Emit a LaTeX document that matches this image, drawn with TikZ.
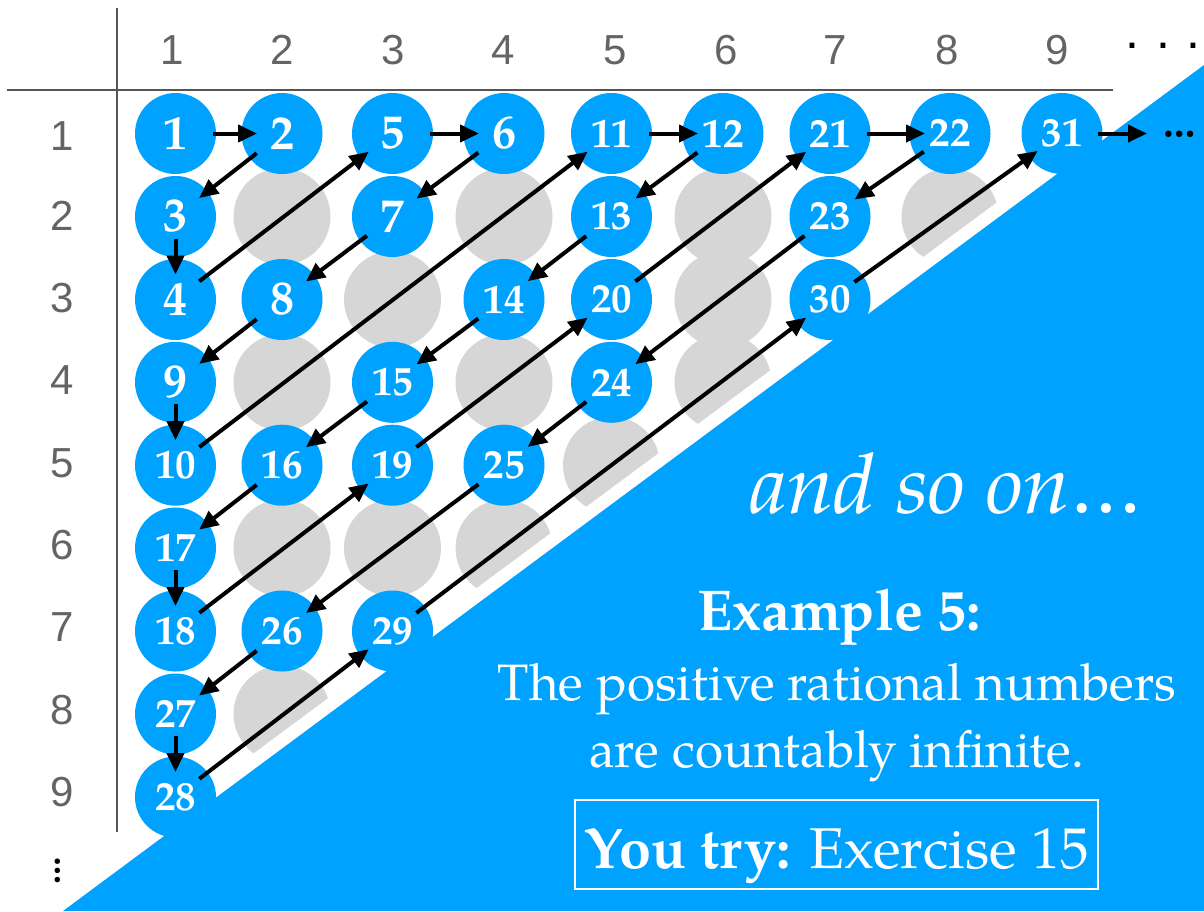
\documentclass[tikz,border=0pt]{standalone}
\usepackage{fontspec}
\setmainfont{texgyrepagella}[Extension=.otf,UprightFont=*-regular,BoldFont=*-bold,ItalicFont=*-italic,BoldItalicFont=*-bolditalic]
\newfontfamily\lblfont{Liberation Sans}
\usetikzlibrary{arrows.meta,calc}
\definecolor{cblue}{RGB}{0,162,255}
\definecolor{cgray}{RGB}{214,214,214}
\definecolor{lblgray}{RGB}{100,100,100}
\definecolor{linegray}{RGB}{85,85,85}
\newcommand\hop[4]{\draw[arr] ($(#1)!#3!(#2)$) -- ($(#2)!#4!(#1)$);}
\def\cA{175.5}\def\cB{282}\def\cC{392.5}\def\cD{504}\def\cE{611.5}\def\cF{723}\def\cG{830}\def\cH{950}\def\cI{1062}
\def\rA{133.5}\def\rB{216.5}\def\rC{299.5}\def\rD{382.3}\def\rE{465.2}\def\rF{548}\def\rG{631}\def\rH{714}\def\rI{797}
\begin{document}
\begin{tikzpicture}[x=1pt,y=-1pt,
  bc/.style={circle,fill=cblue,minimum size=81pt,inner sep=0pt,text=white,font=\bfseries\fontsize{48}{48}\selectfont},
  bcc/.style={bc,font=\bfseries\fontsize{41}{41}\selectfont},
  gc/.style={circle,fill=cgray,minimum size=97pt,inner sep=0pt},
  lbl/.style={text=lblgray,font=\lblfont\fontsize{42}{42}\selectfont,inner sep=0pt},
  arr/.style={line width=4pt,-{Triangle[length=19pt,width=17pt]}},
  wtxt/.style={text=white,anchor=base,inner sep=0pt}]
\useasboundingbox (0,0) rectangle (1204,911);
% grid lines
\draw[linegray,line width=2pt] (7,90) -- (1113,90);
\draw[linegray,line width=2pt] (117,8) -- (117,832);
% header labels
\foreach \t/\x in {1/172,2/282,3/393,4/503,5/615,6/726,7/835,8/947,9/1057}
  \node[lbl] (h\t) at (\x,50) {\t};
\foreach \t/\y in {1/136,2/216,3/298,4/380,5/463,6/545,7/627,8/710,9/792}
  \node[lbl] (v\t) at (62,\y) {\t};
\node[anchor=base,inner sep=0pt,font=\lblfont\fontsize{50}{50}\selectfont] (hdots) at (1163,48) {.\hspace{17pt}.\hspace{17pt}.};
\node[rotate=90,inner sep=0pt,font=\bfseries\fontsize{34}{34}\selectfont] (vdots) at (58,870.5) {…};
% gray circles
\node[gc] (g22) at (\cB,\rB) {};
\node[gc] (g42) at (\cD,\rB) {};
\node[gc] (g62) at (\cF,\rB) {};
\node[gc] (g82) at (\cH,\rB) {};
\node[gc] (g33) at (\cC,\rC) {};
\node[gc] (g63) at (\cF,\rC) {};
\node[gc] (g24) at (\cB,\rD) {};
\node[gc] (g44) at (\cD,\rD) {};
\node[gc] (g64) at (\cF,\rD) {};
\node[gc] (g55) at (\cE,\rE) {};
\node[gc] (g26) at (\cB,\rF) {};
\node[gc] (g36) at (\cC,\rF) {};
\node[gc] (g46) at (\cD,\rF) {};
\node[gc] (g28) at (\cB,\rH) {};
% blue triangle with white band
\path[draw=white,line width=26pt] (63,911) -- (1204,65) -- (1204,911) -- cycle;
\fill[cblue] (63,911) -- (1204,65) -- (1204,911) -- cycle;
% blue circles
\node[bc] (n1) at (\cA,\rA) {1};
\node[bc] (n2) at (\cB,\rA) {2};
\node[bc] (n5) at (\cC,\rA) {5};
\node[bc] (n6) at (\cD,\rA) {6};
\node[bcc] (n11) at (\cE,\rA) {11};
\node[bcc] (n12) at (\cF,\rA) {12};
\node[bcc] (n21) at (\cG,\rA) {21};
\node[bcc] (n22) at (\cH,\rA) {22};
\node[bcc] (n31) at (\cI,\rA) {31};
\node[bc] (n3) at (\cA,\rB) {3};
\node[bc] (n7) at (\cC,\rB) {7};
\node[bcc] (n13) at (\cE,\rB) {13};
\node[bcc] (n23) at (\cG,\rB) {23};
\node[bc] (n4) at (\cA,\rC) {4};
\node[bc] (n8) at (\cB,\rC) {8};
\node[bcc] (n14) at (\cD,\rC) {14};
\node[bcc] (n20) at (\cE,\rC) {20};
\node[bcc] (n30) at (\cG,\rC) {30};
\node[bc] (n9) at (\cA,\rD) {9};
\node[bcc] (n15) at (\cC,\rD) {15};
\node[bcc] (n24) at (\cE,\rD) {24};
\node[bcc] (n10) at (\cA,\rE) {10};
\node[bcc] (n16) at (\cB,\rE) {16};
\node[bcc] (n19) at (\cC,\rE) {19};
\node[bcc] (n25) at (\cD,\rE) {25};
\node[bcc] (n17) at (\cA,\rF) {17};
\node[bcc] (n18) at (\cA,\rG) {18};
\node[bcc] (n26) at (\cB,\rG) {26};
\node[bcc] (n29) at (\cC,\rG) {29};
\node[bcc] (n27) at (\cA,\rH) {27};
\node[bcc] (n28) at (\cA,\rI) {28};
% continuation dots
\node[anchor=base,inner sep=0pt,font=\bfseries\fontsize{40}{40}\selectfont] (more) at (1180,137) {…};
\coordinate (moretip) at (1147,\rA);
% arrows
\hop{n1}{n2}{37pt}{25pt}
\hop{n2}{n3}{32pt}{30pt}
\hop{n3}{n4}{22pt}{25pt}
\hop{n4}{n5}{30pt}{30pt}
\hop{n5}{n6}{37pt}{25pt}
\hop{n6}{n7}{32pt}{30pt}
\hop{n7}{n8}{32pt}{30pt}
\hop{n8}{n9}{32pt}{30pt}
\hop{n9}{n10}{22pt}{25pt}
\hop{n10}{n11}{30pt}{30pt}
\hop{n11}{n12}{37pt}{25pt}
\hop{n12}{n13}{32pt}{30pt}
\hop{n13}{n14}{32pt}{30pt}
\hop{n14}{n15}{32pt}{30pt}
\hop{n15}{n16}{32pt}{30pt}
\hop{n16}{n17}{32pt}{30pt}
\hop{n17}{n18}{22pt}{25pt}
\hop{n18}{n19}{30pt}{30pt}
\hop{n19}{n20}{30pt}{30pt}
\hop{n20}{n21}{30pt}{30pt}
\hop{n21}{n22}{37pt}{25pt}
\hop{n22}{n23}{32pt}{30pt}
\hop{n23}{n24}{32pt}{30pt}
\hop{n24}{n25}{32pt}{30pt}
\hop{n25}{n26}{32pt}{30pt}
\hop{n26}{n27}{32pt}{30pt}
\hop{n27}{n28}{22pt}{25pt}
\hop{n28}{n29}{30pt}{30pt}
\hop{n29}{n30}{30pt}{30pt}
\hop{n30}{n31}{30pt}{30pt}
\draw[arr] ($(n31)!36pt!(moretip)$) -- (moretip);
% texts on the triangle
\node[wtxt,font=\itshape\fontsize{83.5}{84}\selectfont] (andso) at (946,513) {and so on…};
\node[wtxt,font=\bfseries\fontsize{57.6}{58}\selectfont] (ex) at (839,630) {Example 5:};
\node[wtxt,font=\fontsize{51.3}{52}\selectfont] (l1) at (837,700) {The positive rational numbers};
\node[wtxt,font=\fontsize{51.3}{52}\selectfont] (l2) at (836.5,767) {are countably infinite.};
\node[draw=white,line width=2pt,minimum width=523pt,minimum height=89pt,inner sep=0pt] (box) at (836.5,844.5) {};
\node[wtxt,font=\fontsize{57.5}{58}\selectfont] (try) at (837,868) {\textbf{You try:} Exercise 15};
\end{tikzpicture}
\end{document}
